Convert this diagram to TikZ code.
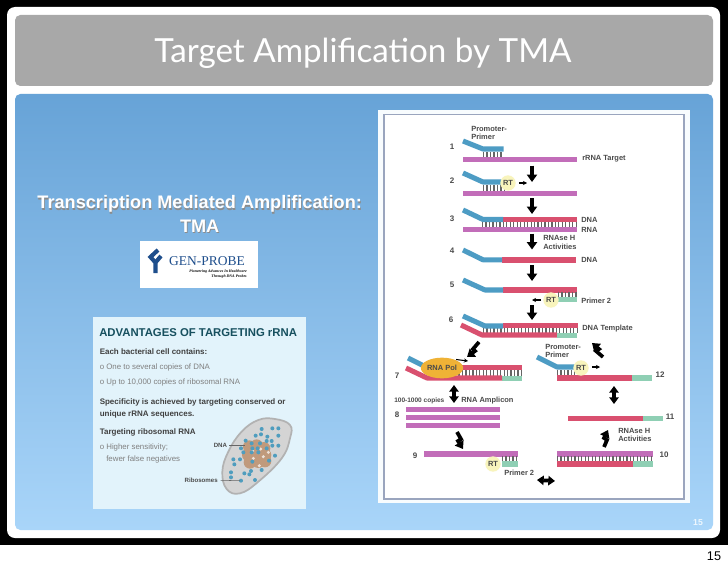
\documentclass[tikz,border=0pt]{standalone}
\usepackage{fontspec}
\setmainfont{Liberation Sans}
\newfontfamily\titlefont{Lato}
\newfontfamily\logofont{Liberation Serif}
\usetikzlibrary{arrows.meta,shapes.geometric}
\definecolor{primerblue}{HTML}{4D9CC4}
\definecolor{rnamag}{HTML}{C26DB9}
\definecolor{dnared}{HTML}{D9506F}
\definecolor{primergreen}{HTML}{8FCFB4}
\definecolor{rtyellow}{HTML}{F8F4BC}
\definecolor{polorange}{HTML}{EFB236}
\definecolor{labelgrey}{HTML}{4A4A4A}
\definecolor{panelTop}{HTML}{67A3D7}
\definecolor{panelBot}{HTML}{A9D5F9}
\definecolor{boxblue}{HTML}{E2F3FB}
\definecolor{teal}{HTML}{17505F}
\definecolor{dotblue}{HTML}{4F9DBE}
\definecolor{dnatan}{HTML}{C09A7C}
\definecolor{framegrey}{HTML}{9AA5BE}
\definecolor{logonavy}{HTML}{1E4E8C}
\tikzset{
  primer/.style={draw=primerblue,line width=3.8pt,line join=round},
  redstrand/.style={draw=dnared,line width=3.8pt,line join=round},
  ticks/.style={draw=labelgrey!85,dash pattern=on .9pt off 1.7pt},
  lab/.style={font=\bfseries\fontsize{5.6}{7}\selectfont,text=labelgrey,inner sep=0pt,anchor=west,align=left},
  num/.style={font=\bfseries\fontsize{6}{7}\selectfont,text=labelgrey,inner sep=0pt},
  rt/.style={circle,fill=rtyellow,minimum size=11.5pt,inner sep=0pt,font=\bfseries\fontsize{5.6}{7}\selectfont,text=labelgrey},
  thin arrow/.style={-{Stealth[length=3pt,width=3pt]},line width=.8pt,black},
  block/.style={-{Triangle[length=5.5pt,width=7.5pt]},line width=2.8pt,black,line join=miter},
  block2/.style={{Triangle[length=5pt,width=7pt]}-{Triangle[length=5pt,width=7pt]},line width=2.8pt,black,line join=miter},
  adv/.style={inner sep=0pt,anchor=west,font=\fontsize{5.9}{7}\selectfont,text=gray},
  advb/.style={inner sep=0pt,anchor=west,font=\bfseries\fontsize{6}{7}\selectfont,text=black!75},
}
\begin{document}
\begin{tikzpicture}[x=.75pt,y=-.75pt]
\useasboundingbox (0,0) rectangle (728,567);
% slide
\fill[white] (0,0) rectangle (728,567);
\fill[black] (0,0) rectangle (728,545);
\fill[white,rounded corners=6pt] (7,7) rectangle (720,538);
\fill[black!34,rounded corners=4pt] (15,15) rectangle (713,86);
\shade[top color=panelTop,bottom color=panelBot,rounded corners=4pt] (15,94) rectangle (713,530);
\node[text=white,font=\titlefont\fontsize{24.9}{28}\selectfont,inner sep=0pt] (title) at (363,53) {Target Amplification by TMA};
\node[text=white!80!panelBot,font=\bfseries\fontsize{6.5}{8}\selectfont,inner sep=0pt] (pg1) at (698,523) {15};
\node[text=black,font=\fontsize{9.5}{11}\selectfont,inner sep=0pt] (pg2) at (714,556) {15};
% left heading
\begin{scope}[font=\bfseries\fontsize{13.6}{15}\selectfont]
\node[text=black!45,inner sep=0pt] (h1s) at (200.4,205.4) {Transcription Mediated Amplification:};
\node[text=black!45,inner sep=0pt] (h2s) at (200.4,227.4) {TMA};
\node[text=white,inner sep=0pt] (h1) at (199.7,204) {Transcription Mediated Amplification:};
\node[text=white,inner sep=0pt] (h2) at (199.7,226) {TMA};
\end{scope}
% logo
\fill[white] (140,241) rectangle (258,288);
\draw[logonavy,line width=3.1pt,line join=miter] (158,250) -- (150.5,257) -- (155,262);
\draw[logonavy,line width=3.1pt,line join=miter] (161,256) -- (155.5,262.5) -- (155.5,273);
\node[inner sep=0pt,text=logonavy,font=\logofont\fontsize{10.1}{12}\selectfont] (gp) at (207,261.5) {GEN-PROBE};
\node[inner sep=0pt,anchor=east,text=black,align=right,font=\logofont\itshape\bfseries\fontsize{2.9}{4.2}\selectfont] (gps) at (247,274) {Pioneering Advances In Healthcare\\Through DNA Probes};
% advantages box
\fill[boxblue] (93,317) rectangle (306,509);
\node[inner sep=0pt,anchor=west,text=teal,font=\bfseries\fontsize{8.5}{10}\selectfont] (a0) at (99,333) {ADVANTAGES OF TARGETING rRNA};
\node[advb] (a1) at (99.5,352) {Each bacterial cell contains:};
\node[adv] (a2) at (99.5,367) {o One to several copies of DNA};
\node[adv] (a3) at (99.5,382) {o Up to 10,000 copies of ribosomal RNA};
\node[advb] (a4) at (99.5,402.5) {Specificity is achieved by targeting conserved or};
\node[advb] (a5) at (99.5,414.5) {unique rRNA sequences.};
\node[advb] (a6) at (99.5,432) {Targeting ribosomal RNA};
\node[adv] (a7) at (99.5,447) {o Higher sensitivity;};
\node[adv] (a8) at (106,459.5) {fewer false negatives};
\begin{scope}[shift={(90,315)},x=.25pt,y=-.25pt]
\draw[fill=black!17,draw=black!30,line width=1.3pt] plot[smooth cycle,tension=.7] coordinates {(555,312) (505,315) (455,350) (415,410) (397,470) (410,522) (450,535) (505,500) (575,430) (600,370) (600,330)};
\foreach \p in {(478,395),(500,392),(522,400),(475,420),(500,415),(525,420),(480,442),(505,440),(525,438)}
  \fill[dnatan] \p circle (19);
\foreach \p in {(488,408),(512,402),(520,425),(490,430),(508,452),(535,412)}
  \fill[white!70!dnatan] \p circle (5);
\foreach \x/\y in {140/42,172/40,190/40,190/62,122/62,138/58,157/65,92/77,155/78,170/78,172/92,190/92,110/85,135/85,112/100,128/100,155/100,78/100,85/112,110/112,130/112,180/122,75/133,55/133,58/148,112/140,162/137,108/168,88/175,103/178,140/165,48/172,48/187,78/197,120/195}
  \fill[dotblue] ({\x+375},{\y+300}) circle (6);
\node[inner sep=0pt,anchor=east,text=black!70,font=\bfseries\fontsize{4.6}{5}\selectfont] (dnalab) at (412,390) {DNA};
\node[inner sep=0pt,anchor=east,text=black!70,font=\bfseries\fontsize{4.6}{5}\selectfont] (riblab) at (384,496) {Ribosomes};
\coordinate (dnaend) at (465,390);
\coordinate (ribend) at (450,497);
\draw[black!60,line width=.4pt] (dnalab.east) ++(6,0) -- (dnaend);
\draw[black!60,line width=.4pt] (riblab.east) ++(8,0) -- (ribend);
\end{scope}
% diagram frame
\fill[white!92!panelBot] (378,110) rectangle (690,503);
\draw[fill=white,draw=framegrey,line width=.9pt] (384,114.5) rectangle (684,499);
% --- row 1
\node[lab] (pp1) at (471,133) {Promoter-\\[-1.5pt]Primer};
\node[num] (n1) at (452,147) {1};
\draw[ticks,line width=4pt] (483,155) -- (503,155);
\draw[primer] (463,141) -- (483,149) -- (503.5,149);
\fill[rnamag] (463,157) rectangle (577,162);
\node[lab] (t1) at (582,159) {rRNA Target};
\coordinate (a1s) at (532,165.5); \coordinate (a1e) at (532,182);
\draw[block] (a1s) -- (a1e);
% --- row 2
\node[num] (n2) at (452,181) {2};
\draw[ticks,line width=4pt] (483,188) -- (504,188);
\draw[primer] (463,173) -- (483,182) -- (503,182);
\fill[rnamag] (463,190.5) rectangle (577,196);
\node[rt] (rt2) at (508,183) {RT};
\coordinate (a2t) at (527,183);
\draw[thin arrow] (rt2.east) ++(3,0) -- (a2t);
\coordinate (a2s) at (532,198); \coordinate (a2e) at (532,214);
\draw[block] (a2s) -- (a2e);
% --- row 3
\node[num] (n3) at (452,219) {3};
\fill[dnared] (503,217) rectangle (577,222);
\draw[primer] (463,210) -- (483,219.5) -- (503,219.5);
\draw[ticks,line width=4.5pt] (482,224.7) -- (576,224.7);
\fill[rnamag] (463,227) rectangle (577,232);
\node[lab] (t3a) at (581,220) {DNA};
\node[lab] (t3b) at (581,230) {RNA};
\coordinate (a3s) at (532,233.5); \coordinate (a3e) at (532,249.5);
\draw[block] (a3s) -- (a3e);
\node[lab] (t3c) at (543,242.5) {RNAse H\\[-.5pt]Activities};
% --- row 4
\node[num] (n4) at (452,251) {4};
\fill[dnared] (502,257) rectangle (576,263);
\draw[primer] (463,250) -- (483,259.8) -- (502,259.8);
\node[lab] (t4) at (581,260) {DNA};
\coordinate (a4s) at (532,265); \coordinate (a4e) at (532,281);
\draw[block] (a4s) -- (a4e);
% --- row 5
\node[num] (n5) at (452,285) {5};
\fill[dnared] (503,287) rectangle (577,293);
\draw[primer] (463,280) -- (485,290) -- (503,290);
\draw[ticks,line width=4pt] (558,295) -- (577,295);
\fill[primergreen] (558,297) rectangle (577,302);
\node[rt] (rt5) at (551,300) {RT};
\coordinate (a5e) at (532,300);
\draw[thin arrow] (rt5.west) ++(-2,0) -- (a5e);
\node[lab] (t5) at (581,301) {Primer 2};
\coordinate (a5bs) at (532,305); \coordinate (a5be) at (532,320);
\draw[block] (a5bs) -- (a5be);
% --- row 6
\node[num] (n6) at (451,320) {6};
\draw[ticks,line width=4.5pt] (483,330) -- (577,330);
\fill[dnared] (503,323) rectangle (578,328);
\draw[primer] (463,316) -- (485,326) -- (503,326);
\draw[redstrand] (461,325) -- (482,335) -- (557,335);
\fill[primergreen] (557,332.5) rectangle (577,338);
\node[lab] (t6) at (582,329) {DNA Template};
\coordinate (a6s) at (479,342); \coordinate (a6m) at (473,349); \coordinate (a6n) at (475,351); \coordinate (a6e) at (467,357);
\draw[block] (a6s) -- (a6m) -- (a6n) -- (a6e);
\coordinate (a6bs) at (603,357); \coordinate (a6bm) at (596,351); \coordinate (a6bn) at (599,349); \coordinate (a6be) at (592,343);
\draw[block] (a6bs) -- (a6bm) -- (a6bn) -- (a6be);
% --- row 7
\node[num] (n7) at (397,376) {7};
\fill[dnared] (457,365) rectangle (522,370);
\draw[ticks,line width=4.5pt] (455,373) -- (522,373);
\fill[primergreen] (502,376) rectangle (522,381);
\draw[redstrand] (406,368) -- (427,378) -- (502,378);
\draw[primer] (408,358) -- (425,366.5);
\node[ellipse,fill=polorange,minimum width=28.5pt,minimum height=15.5pt,inner sep=0pt,font=\bfseries\fontsize{5.6}{7}\selectfont,text=labelgrey] (pol) at (442,368) {RNA Pol};
\coordinate (a7t) at (468,361);
\draw[thin arrow] (pol.north east) ++(-1,-1) -- (a7t);
\coordinate (a7s) at (454,385); \coordinate (a7e) at (454,403);
\draw[block2] (a7s) -- (a7e);
\node[lab,font=\bfseries\fontsize{4.9}{6}\selectfont] (t7a) at (394,401) {100-1000 copies};
\node[lab] (t7b) at (461,401) {RNA Amplicon};
% --- row 8
\node[num] (n8) at (397,415) {8};
\fill[rnamag] (406,407) rectangle (500,412);
\fill[rnamag] (406,415) rectangle (500,420);
\fill[rnamag] (406,423) rectangle (500,428);
\coordinate (a8s) at (457,432); \coordinate (a8m) at (461,439); \coordinate (a8n) at (458,441); \coordinate (a8e) at (463,449);
\draw[block] (a8s) -- (a8m) -- (a8n) -- (a8e);
% --- row 9
\node[num] (n9) at (415,456) {9};
\fill[rnamag] (424,451) rectangle (518,457);
\draw[ticks,line width=4pt] (502,459) -- (518,459);
\fill[primergreen] (502,461) rectangle (518,467);
\node[rt] (rt9) at (493,464) {RT};
\node[lab] (t9) at (504,473) {Primer 2};
\coordinate (a9s) at (537,480); \coordinate (a9e) at (555,481);
\draw[block2] (a9s) -- (a9e);
% --- row 10
\node[num] (n10) at (664,455) {10};
\fill[rnamag] (557,451) rectangle (653,457);
\draw[ticks,line width=4pt] (557,459) -- (653,459);
\fill[dnared] (557,461) rectangle (633,467);
\fill[primergreen] (633,461) rectangle (653,467);
\node[lab] (t10) at (618,435) {RNAse H\\[-.5pt]Activities};
\coordinate (a10s) at (604,447); \coordinate (a10m) at (607,440); \coordinate (a10n) at (604,438); \coordinate (a10e) at (608,430);
\draw[block] (a10s) -- (a10m) -- (a10n) -- (a10e);
% --- row 11
\node[num] (n11) at (670,417) {11};
\fill[dnared] (568,416) rectangle (643,421);
\fill[primergreen] (643,416) rectangle (663,421);
\coordinate (a11s) at (614,404); \coordinate (a11e) at (614,386);
\draw[block2] (a11s) -- (a11e);
% --- row 12
\node[num] (n12) at (660,375) {12};
\draw[ticks,line width=4pt] (557,372.5) -- (575,372.5);
\draw[primer] (537,357) -- (557,367) -- (575,367);
\fill[dnared] (557,375) rectangle (632,381);
\fill[primergreen] (632,375) rectangle (652,381);
\node[rt] (rt12) at (581,368) {RT};
\coordinate (a12t) at (600,367);
\draw[thin arrow] (rt12.east) ++(3,-1) -- (a12t);
\node[lab] (t12) at (545,351) {Promoter-\\[-1.5pt]Primer};
\end{tikzpicture}
\end{document}
